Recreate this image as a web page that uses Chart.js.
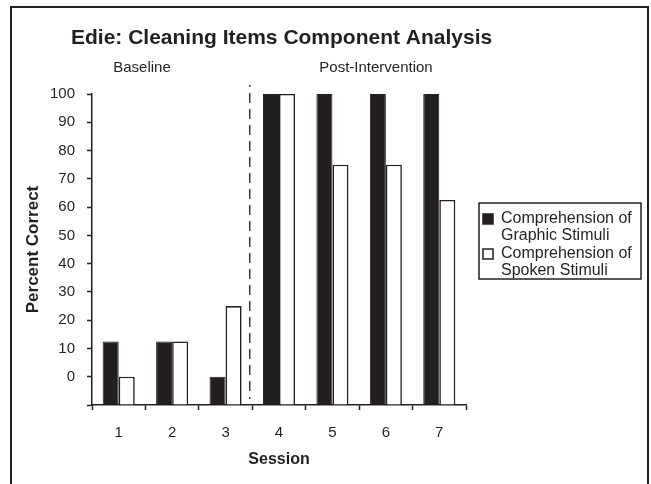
<!DOCTYPE html>
<html>
<head>
<meta charset="utf-8">
<style>
  html, body { margin: 0; padding: 0; background: #fff; }
  #wrap { position: relative; width: 651px; height: 484px; }
</style>
<script src="https://cdn.jsdelivr.net/npm/chart.js@4.4.1/dist/chart.umd.min.js"></script>
</head>
<body>
<div id="wrap"><canvas id="c" width="651" height="484"></canvas></div>
<script>
// Sessions and percent-correct scores
const sessions = ['1', '2', '3', '4', '5', '6', '7'];
const graphicStimuli = [12.5, 12.5, 0, 100, 100, 100, 100];
const spokenStimuli = [0, 12.5, 25, 100, 75, 75, 62.5];
const seriesNames = [
  ['Comprehension of', 'Graphic Stimuli'],
  ['Comprehension of', 'Spoken Stimuli']
];
const phaseLabels = ['Baseline', 'Post-Intervention'];
const yTicks = [0, 10, 20, 30, 40, 50, 60, 70, 80, 90, 100];

const INK = '#231f20';
const FONT = '"Liberation Sans", Arial, sans-serif';

// Frame, title, phase labels, phase-change line, axis titles and legend
const decorations = {
  id: 'decorations',
  beforeDraw(chart) {
    const ctx = chart.ctx;
    ctx.save();
    ctx.fillStyle = '#fff';
    ctx.fillRect(0, 0, chart.width, chart.height);
    ctx.strokeStyle = INK;
    ctx.lineWidth = 2;
    ctx.beginPath();
    ctx.moveTo(11, chart.height + 2);
    ctx.lineTo(11, 7);
    ctx.lineTo(648, 7);
    ctx.lineTo(648, chart.height + 2);
    ctx.stroke();
    ctx.restore();
  },
  afterDraw(chart) {
    const ctx = chart.ctx;
    const x = chart.scales.x;
    const area = chart.chartArea;
    ctx.save();
    ctx.fillStyle = INK;

    // title
    ctx.font = 'bold 21px ' + FONT;
    ctx.textAlign = 'left';
    ctx.textBaseline = 'middle';
    ctx.fillText('Edie: Cleaning Items Component Analysis', 71, 38);

    // phase labels
    ctx.font = '15px ' + FONT;
    ctx.textAlign = 'center';
    ctx.fillText(phaseLabels[0], 142, 68);
    ctx.fillText(phaseLabels[1], 376, 68);

    // phase-change line
    const splitX = (x.getPixelForValue(2) + x.getPixelForValue(3)) / 2 - 2.5;
    ctx.strokeStyle = INK;
    ctx.lineWidth = 1.3;
    ctx.fillRect(splitX - 0.8, area.top - 9, 1.6, 1.6);
    ctx.setLineDash([10, 6]);
    ctx.beginPath();
    ctx.moveTo(splitX, area.top - 1);
    ctx.lineTo(splitX, area.bottom - 6);
    ctx.stroke();
    ctx.setLineDash([]);

    // axis titles
    ctx.font = 'bold 16px ' + FONT;
    ctx.fillText('Session', (area.left + area.right) / 2, 460);
    ctx.save();
    ctx.font = 'bold 17px ' + FONT;
    ctx.translate(33, (area.top + area.bottom) / 2);
    ctx.rotate(-Math.PI / 2);
    ctx.fillText('Percent Correct', 0, 0);
    ctx.restore();

    // legend
    const lx = 479, ly = 203, lw = 162, lh = 76;
    ctx.lineWidth = 1.5;
    ctx.strokeRect(lx, ly, lw, lh);
    ctx.font = '16px ' + FONT;
    ctx.textAlign = 'left';
    const lineYs = [[219, 236], [254, 271]];
    chart.data.datasets.forEach((ds, i) => {
      const sy = lineYs[i][0];
      ctx.fillStyle = ds.backgroundColor;
      ctx.fillRect(483, sy - 5, 10, 10);
      ctx.strokeStyle = INK;
      ctx.lineWidth = 1.5;
      ctx.strokeRect(483, sy - 5, 10, 10);
      ctx.fillStyle = INK;
      seriesNames[i].forEach((t, j) => ctx.fillText(t, 501, lineYs[i][j]));
    });
    ctx.restore();
  }
};

new Chart(document.getElementById('c'), {
  type: 'bar',
  data: {
    labels: sessions,
    datasets: [
      {
        label: seriesNames[0].join(' '),
        data: graphicStimuli,
        backgroundColor: INK,
        borderColor: INK,
        borderWidth: 1,
        base: -10
      },
      {
        label: seriesNames[1].join(' '),
        data: spokenStimuli,
        backgroundColor: '#ffffff',
        borderColor: INK,
        borderWidth: 1.6,
        base: -10
      }
    ]
  },
  options: {
    responsive: false,
    animation: false,
    devicePixelRatio: 1,
    layout: { padding: { left: 0, top: 94, right: 185, bottom: 0 } },
    datasets: { bar: { categoryPercentage: 0.6, barPercentage: 1.0 } },
    plugins: {
      legend: { display: false },
      title: { display: false },
      tooltip: { enabled: false }
    },
    scales: {
      x: {
        grid: {
          offset: true,
          drawOnChartArea: false,
          drawTicks: true,
          tickLength: 5,
          tickWidth: 1.5,
          tickColor: INK
        },
        border: { display: true, color: INK, width: 1.5 },
        ticks: { color: INK, font: { family: FONT, size: 15 }, padding: 14, maxRotation: 0 },
        afterFit(s) { s.height = 79; }
      },
      y: {
        min: -10,
        max: 100,
        afterBuildTicks(s) {
          s.ticks = [-10].concat(yTicks).map(v => ({ value: v }));
        },
        grid: {
          drawOnChartArea: false,
          drawTicks: true,
          tickLength: 5,
          tickWidth: 1.5,
          tickColor: INK
        },
        border: { display: true, color: INK, width: 1.5 },
        ticks: {
          color: INK,
          font: { family: FONT, size: 15 },
          padding: 12,
          callback: v => (yTicks.includes(v) ? String(v) : '')
        },
        afterFit(s) { s.width = 92; }
      }
    }
  },
  plugins: [decorations]
});
</script>
</body>
</html>
